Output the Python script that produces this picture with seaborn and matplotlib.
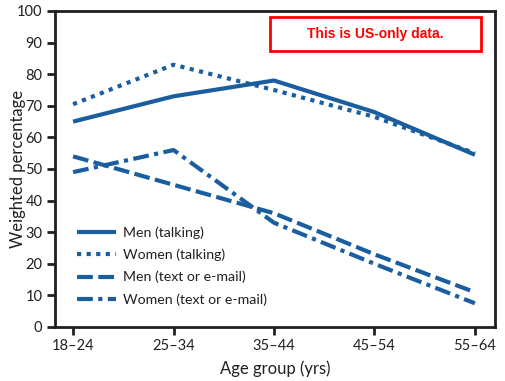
import numpy as np
import pandas as pd
import matplotlib
matplotlib.use("Agg")
import matplotlib.pyplot as plt
import seaborn as sns
from matplotlib.patches import Rectangle
from matplotlib.lines import Line2D

# Data
age_groups = ["18–24", "25–34", "35–44", "45–54", "55–64"]
men_talking = [65, 73, 78, 68, 54.5]
women_talking = [70.5, 83, 75, 66.5, 55]
men_text = [54, 45, 36, 23, 11]
women_text = [49, 56, 33, 20, 7.5]
series_names = ["Men (talking)", "Women (talking)", "Men (text or e-mail)", "Women (text or e-mail)"]

sns.set_theme(style="white")
plt.rcParams['font.family'] = ['Lato', 'DejaVu Sans']

blue = "#1b5e9f"
dark = "#231f20"

rows = []
for name, vals in zip(series_names, [men_talking, women_talking, men_text, women_text]):
    for g, v in zip(age_groups, vals):
        rows.append({"Age": g, "Pct": v, "Series": name})
df = pd.DataFrame(rows)

dash_map = {
    "Men (talking)": "",
    "Women (talking)": (1.0, 1.3),
    "Men (text or e-mail)": (3.8, 1.3),
    "Women (text or e-mail)": (3.8, 1.3, 1.0, 1.3),
}

fig = plt.figure(figsize=(5.06, 3.81), dpi=100)
ax = fig.add_axes([55 / 506, 54 / 381, 440 / 506, 316 / 381])

sns.lineplot(data=df, x="Age", y="Pct", style="Series", style_order=series_names,
             dashes=dash_map, color=blue, linewidth=3, legend=False, ax=ax)
for ln in ax.get_lines():
    ln.set_dash_capstyle("butt")
    ln.set_solid_capstyle("butt")

ax.set_xlim(-0.18, 4.2)
ax.set_ylim(0, 100)
ax.set_yticks(range(0, 101, 10))
ax.set_xticks(range(5))
ax.set_xticklabels(age_groups)

for s in ax.spines.values():
    s.set_color(dark)
    s.set_linewidth(2)
ax.tick_params(axis="both", direction="out", length=6, width=2, color=dark,
               labelsize=10.5, labelcolor=dark, left=True, bottom=True, pad=3)

ax.set_xlabel("Age group (yrs)", fontsize=12, color=dark, labelpad=5)
ax.set_ylabel("Weighted percentage", fontsize=12, color=dark)
ax.yaxis.set_label_coords(-0.066, 0.5)

handles = [Line2D([], [], color=blue, lw=3, dash_capstyle="butt", solid_capstyle="butt",
                  linestyle=(0, dash_map[n]) if dash_map[n] else "-") for n in series_names]
ax.legend(handles, series_names, loc="upper left", bbox_to_anchor=(0.02, 0.36),
          frameon=False, fontsize=10.2, handlelength=2.8, handletextpad=0.5,
          labelspacing=0.7, labelcolor=dark)

ax.add_patch(Rectangle((0.489, 0.873), 0.479, 0.108, transform=ax.transAxes,
                       fill=False, edgecolor="#ff0000", linewidth=2, clip_on=False))
ax.text(0.727, 0.927, "This is US-only data.", transform=ax.transAxes,
        ha="center", va="center", color="#ff0000", fontsize=10, fontweight="bold",
        family=["Liberation Sans Narrow", "Liberation Sans", "DejaVu Sans"])

fig.savefig("out.png", dpi=100)
